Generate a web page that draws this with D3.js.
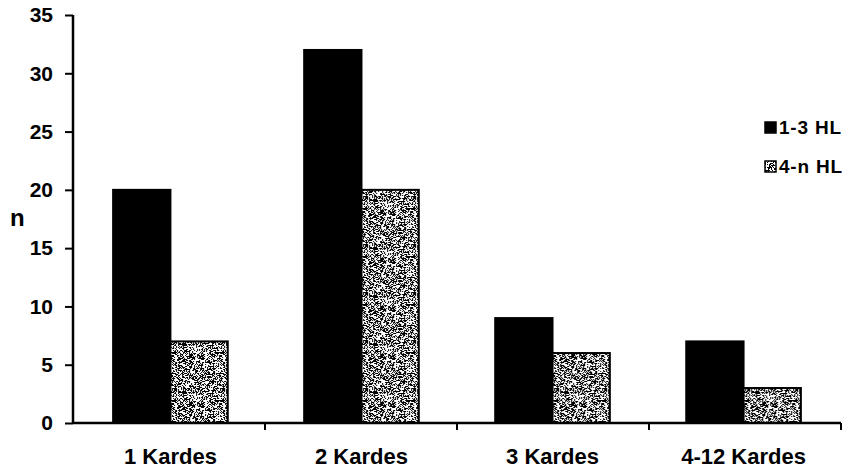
<!DOCTYPE html>
<html>
<head>
<meta charset="utf-8">
<script src="https://cdn.jsdelivr.net/npm/d3@7/dist/d3.min.js"></script>
<style>
  html, body { margin: 0; padding: 0; background: #fff; }
  svg { display: block; font-family: "Liberation Sans", Arial, sans-serif; font-weight: bold; }
</style>
</head>
<body>
<svg id="chart" width="857" height="472"></svg>
<script>
// Number of sibling groups and counts per hearing-loss group
const categories = ["1 Kardes", "2 Kardes", "3 Kardes", "4-12 Kardes"];
const seriesNames = ["1-3 HL", "4-n HL"];
const hl13 = [20, 32, 9, 7];
const hl4n = [7, 20, 6, 3];
const yTicks = [0, 5, 10, 15, 20, 25, 30, 35];

const svg = d3.select("#chart");
const margin = { left: 73, right: 16, top: 15, bottom: 49 };
const W = 857, H = 472;

// Stippled fill for the second series, built from a small deterministic hash
const defs = svg.append("defs");
const pat = defs.append("pattern")
  .attr("id", "stipple")
  .attr("patternUnits", "userSpaceOnUse")
  .attr("width", 48).attr("height", 48);
pat.append("rect").attr("width", 48).attr("height", 48).attr("fill", "#fff");
let seed = 1234567;
function lcg() { seed = (seed * 1103515245 + 12345) & 0x7fffffff; return seed / 0x7fffffff; }
const dots = [];
for (let y = 0; y < 48; y++) for (let x = 0; x < 48; x++) if (lcg() < 0.47) dots.push([x, y]);
pat.selectAll("rect.d").data(dots).join("rect").attr("class", "d")
  .attr("x", d => d[0]).attr("y", d => d[1]).attr("width", 1).attr("height", 1).attr("fill", "#000");

const y = d3.scaleLinear().domain([0, 35]).range([H - margin.bottom, margin.top]);
const x0 = d3.scaleBand().domain(categories).range([margin.left, W - margin.right])
  .paddingInner(0.4).paddingOuter(0.21);
const x1 = d3.scaleBand().domain(seriesNames).range([0, x0.bandwidth()]);

const rows = categories.map((c, i) => ({ cat: c, vals: [hl13[i], hl4n[i]] }));
const fills = ["#000", "url(#stipple)"];

const g = svg.append("g");
g.selectAll("g.grp").data(rows).join("g").attr("class", "grp")
  .attr("transform", d => `translate(${x0(d.cat)},0)`)
  .selectAll("rect").data(d => d.vals.map((v, j) => ({ v, j })))
  .join("rect")
  .attr("x", d => x1(seriesNames[d.j]))
  .attr("y", d => y(d.v))
  .attr("width", x1.bandwidth())
  .attr("height", d => y(0) - y(d.v))
  .attr("fill", d => fills[d.j])
  .attr("stroke", "#000")
  .attr("stroke-width", 2);

// Y axis
const yAxis = svg.append("g").attr("transform", `translate(${margin.left},0)`)
  .call(d3.axisLeft(y).tickValues(yTicks).tickSize(8).tickPadding(12).tickFormat(d3.format("d")));
yAxis.select(".domain").attr("stroke-width", 2.5).attr("d", `M0,${margin.top}V${y(0)}`);
yAxis.selectAll(".tick line").attr("stroke-width", 2);
yAxis.selectAll(".tick text").attr("font-size", 21).attr("font-family", "Liberation Sans, Arial, sans-serif").attr("font-weight", "bold");

// X axis with ticks at group boundaries
const xb = d3.scaleLinear().domain([0, categories.length]).range([margin.left, W - margin.right]);
const xAxis = svg.append("g").attr("transform", `translate(0,${y(0)})`);
xAxis.append("line").attr("x1", margin.left).attr("x2", W - margin.right)
  .attr("stroke", "#000").attr("stroke-width", 2.5);
xAxis.selectAll("line.tk").data(d3.range(1, categories.length + 1)).join("line").attr("class", "tk")
  .attr("x1", d => xb(d)).attr("x2", d => xb(d)).attr("y1", 0).attr("y2", 7)
  .attr("stroke", "#000").attr("stroke-width", 2);
xAxis.selectAll("text").data(categories).join("text")
  .attr("x", d => x0(d) + x0.bandwidth() / 2)
  .attr("y", 41)
  .attr("text-anchor", "middle")
  .attr("font-size", 22)
  .text(d => d);

// Axis title
svg.append("text").attr("x", 10).attr("y", 226).attr("font-size", 24).text("n");

// Legend
const lg = svg.append("g").attr("transform", "translate(765,122)");
seriesNames.forEach((s, i) => {
  const row = lg.append("g").attr("transform", `translate(0,${i * 39})`);
  row.append("rect").attr("width", 11).attr("height", 11)
    .attr("fill", fills[i]).attr("stroke", "#000").attr("stroke-width", 1.5);
  row.append("text").attr("x", 14).attr("y", 12).attr("font-size", 19)
    .attr("letter-spacing", 0.8).text(s);
});
</script>
</body>
</html>
